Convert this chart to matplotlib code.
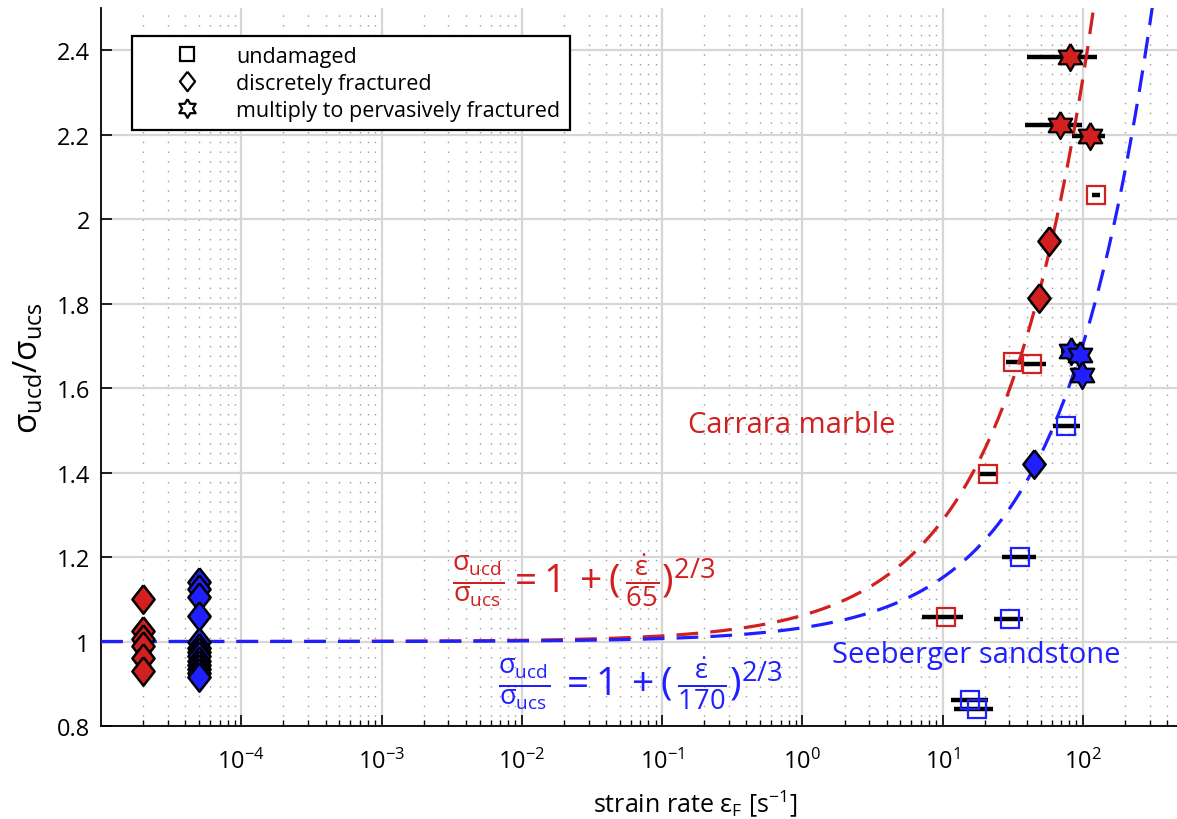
import numpy as np
import matplotlib
matplotlib.use("Agg")
import matplotlib.pyplot as plt
from matplotlib.lines import Line2D
from matplotlib.ticker import LogLocator, FixedLocator

plt.rcParams['font.family'] = ['Open Sans', 'DejaVu Sans']
plt.rcParams['mathtext.fontset'] = 'custom'
plt.rcParams['mathtext.rm'] = 'Open Sans'
plt.rcParams['mathtext.it'] = 'Open Sans'
plt.rcParams['mathtext.default'] = 'regular'

RED = '#d21f1f'
BLUE = '#1f1fff'

# fitted reference strain rates (1/s)
rate_marble = 65.0
rate_sandstone = 170.0

# ---- Carrara marble ----
# quasi-static tests (discretely fractured)
m_qs_rate = 2e-5
m_qs_ratio = [1.10, 1.025, 1.005, 0.99, 0.96, 0.93]
# dynamic, undamaged
m_und_rate = [125, 32, 43.5, 21, 10.5]
m_und_ratio = [2.057, 1.661, 1.657, 1.396, 1.058]
m_und_lo = [117, 28.5, 37, 18, 7.1]
m_und_hi = [133, 36, 55, 24.4, 14.1]
# dynamic, discretely fractured
m_dis_rate = [57, 48.5]
m_dis_ratio = [1.948, 1.813]
# dynamic, multiply to pervasively fractured
m_mul_rate = [81.5, 69, 113]
m_mul_ratio = [2.384, 2.223, 2.196]
m_mul_lo = [40.3, 39, 84]
m_mul_hi = [127, 99, 143]

# ---- Seeberger sandstone ----
s_qs_rate = 5e-5
s_qs_ratio = [1.14, 1.125, 1.105, 1.06, 1.0, 0.985, 0.975, 0.965,
              0.955, 0.945, 0.935, 0.925, 0.915]
s_und_rate = [76.4, 35.9, 30.5, 15.8, 17.6]
s_und_ratio = [1.51, 1.20, 1.054, 0.862, 0.84]
s_und_lo = [61.6, 26.5, 23.4, 11.4, 12.1]
s_und_hi = [96, 46.6, 37.5, 21, 23]
s_dis_rate = [45.2]
s_dis_ratio = [1.42]
s_mul_rate = [82, 95, 98]
s_mul_ratio = [1.688, 1.679, 1.631]
s_mul_lo = [70, 82, 90]
s_mul_hi = [100, 108, 106]

# marker shapes
diamond = [(0, 1), (0.78, 0), (0, -1), (-0.78, 0), (0, 1)]
ang = np.deg2rad(90 + 30 * np.arange(13))
rad = np.where(np.arange(13) % 2 == 0, 1.0, 1 / np.sqrt(3))
hexagram = list(zip(rad * np.cos(ang), rad * np.sin(ang)))

fig = plt.figure(figsize=(11.77, 8.2), dpi=100)
# axes run past the right edge of the canvas
ax = fig.add_axes([0.0858, 0.1134, 1.0102, 0.8756])

xlim = (1e-5, 3000)
ylim = (0.8, 2.5)

# model curves
xc = np.logspace(np.log10(xlim[0]), np.log10(xlim[1]), 800)
ax.plot(xc, 1 + (xc / rate_marble) ** (2 / 3), color=RED, lw=2.3,
        dashes=(6.8, 3.8), zorder=4)
ax.plot(xc, 1 + (xc / rate_sandstone) ** (2 / 3), color=BLUE, lw=2.3,
        dashes=(6.8, 3.8), zorder=4)


def xbars(x, y, lo, hi):
    x = np.asarray(x, float)
    err = [x - np.asarray(lo), np.asarray(hi) - x]
    ax.errorbar(x, y, xerr=err, fmt='none', ecolor='k', elinewidth=3.2,
                capsize=0, zorder=3)


xbars(m_mul_rate, m_mul_ratio, m_mul_lo, m_mul_hi)
xbars(m_und_rate, m_und_ratio, m_und_lo, m_und_hi)
xbars(s_mul_rate, s_mul_ratio, s_mul_lo, s_mul_hi)
xbars(s_und_rate, s_und_ratio, s_und_lo, s_und_hi)

# undamaged (open squares)
ax.plot(m_und_rate, m_und_ratio, ls='none', marker='s', ms=13.5, mfc='none',
        mec=RED, mew=1.6, zorder=5)
ax.plot(s_und_rate, s_und_ratio, ls='none', marker='s', ms=13.5, mfc='none',
        mec=BLUE, mew=1.6, zorder=5)

# discretely fractured (filled diamonds)
for rates, ratios, col in [([m_qs_rate] * len(m_qs_ratio), m_qs_ratio, RED),
                           (m_dis_rate, m_dis_ratio, RED),
                           ([s_qs_rate] * len(s_qs_ratio), s_qs_ratio, BLUE),
                           (s_dis_rate, s_dis_ratio, BLUE)]:
    ax.plot(rates, ratios, ls='none', marker=diamond, ms=20.5, mfc=col,
            mec='k', mew=1.8, zorder=5)

# multiply to pervasively fractured (filled hexagrams)
ax.plot(m_mul_rate, m_mul_ratio, ls='none', marker=hexagram, ms=19.5, mfc=RED,
        mec='k', mew=1.6, zorder=5)
ax.plot(s_mul_rate, s_mul_ratio, ls='none', marker=hexagram, ms=19.5, mfc=BLUE,
        mec='k', mew=1.6, zorder=5)

# text annotations
ax.text(0.84, 1.515, 'Carrara marble', color=RED, fontsize=21,
        ha='center', va='center')
ax.text(17.4, 0.969, 'Seeberger sandstone', color=BLUE, fontsize=21,
        ha='center', va='center')
ax.text(3.2e-3, 1.147,
        r'$\frac{σ_{ucd}}{σ_{ucs}}=1\,+(\,\frac{\dot{ε}}{65})^{2/3}$',
        color=RED, fontsize=28, ha='left', va='center')
ax.text(6.8e-3, 0.903,
        r'$\frac{σ_{ucd}}{σ_{ucs}}\,=1\,+(\,\frac{\dot{ε}}{170})^{2/3}$',
        color=BLUE, fontsize=28, ha='left', va='center')

# axes setup
ax.set_xscale('log')
ax.set_xlim(*xlim)
ax.set_ylim(*ylim)
ax.xaxis.set_major_locator(FixedLocator([1e-4, 1e-3, 1e-2, 1e-1, 1, 10, 100]))
ax.xaxis.set_minor_locator(LogLocator(base=10, subs=np.arange(2, 10), numticks=20))
ax.set_yticks([0.8, 1, 1.2, 1.4, 1.6, 1.8, 2, 2.2, 2.4])
ax.set_yticklabels(['0.8', '1', '1.2', '1.4', '1.6', '1.8', '2', '2.2', '2.4'])

ax.grid(True, which='major', color='#d6d6d6', lw=1.6, zorder=0)
ax.grid(True, which='minor', axis='x', color='#9a9a9a', lw=1.0,
        ls=(0, (1, 6)), zorder=0)
ax.set_axisbelow(True)

for side in ('top', 'right'):
    ax.spines[side].set_visible(False)
for side in ('left', 'bottom'):
    ax.spines[side].set_linewidth(1.3)

ax.tick_params(which='major', direction='in', length=8, width=1.2,
               labelsize=17, pad=8, top=False, right=False)
ax.tick_params(which='minor', direction='in', length=4, width=1.0,
               top=False, right=False)
ax.tick_params(axis='x', which='major', pad=16)

ax.set_xlabel(r'strain rate $ε_{F}$ [s$^{-1}$]', fontsize=18, labelpad=10)
ax.set_ylabel(r'$σ_{ucd}/σ_{ucs}$', fontsize=24, labelpad=8)

# legend
handles = [
    Line2D([], [], ls='none', marker='s', ms=9.5, mfc='white', mec='k', mew=1.6),
    Line2D([], [], ls='none', marker=diamond, ms=14, mfc='white', mec='k', mew=1.6),
    Line2D([], [], ls='none', marker=hexagram, ms=13.5, mfc='white', mec='k', mew=1.6),
]
labels = ['undamaged', 'discretely fractured', 'multiply to pervasively fractured']
leg = ax.legend(handles, labels, loc='upper left',
                bbox_to_anchor=(132 / 1177, 1 - 37 / 820),
                bbox_transform=fig.transFigure,
                fontsize=15.5, frameon=True, fancybox=False, edgecolor='k',
                framealpha=1, handletextpad=0.2, borderpad=0.45,
                labelspacing=0.28, borderaxespad=0, handlelength=4.2)
leg.get_frame().set_linewidth(1.6)
leg.set_zorder(10)

fig.savefig('out.png', dpi=100)
